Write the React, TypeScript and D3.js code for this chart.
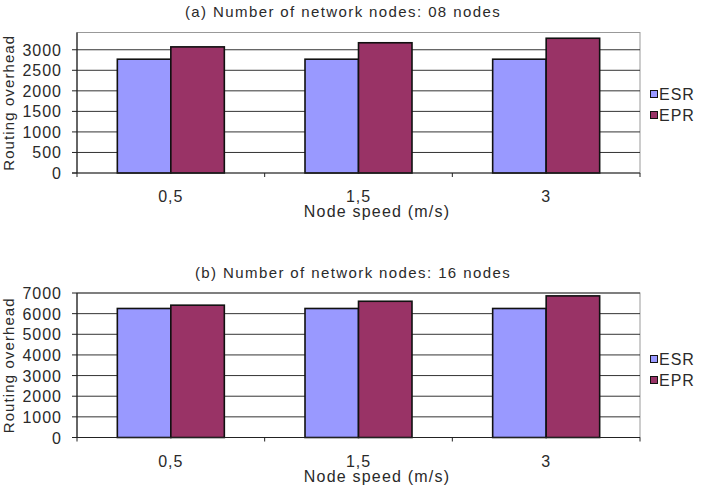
import * as d3 from 'd3'

const speeds = ['0,5', '1,5', '3']
const seriesNames = ['ESR', 'EPR']
const seriesColors = ['#9999FF', '#993366']

const esr08 = [2770, 2770, 2770]
const epr08 = [3070, 3170, 3280]
const ticks08 = [0, 500, 1000, 1500, 2000, 2500, 3000]

const esr16 = [6250, 6250, 6250]
const epr16 = [6410, 6600, 6860]
const ticks16 = [0, 1000, 2000, 3000, 4000, 5000, 6000, 7000]

const W = 707
const H = 492
const FONT = '"Liberation Sans", Arial, sans-serif'
const INK = '#2a2a2a'

type PanelProps = {
  title: string
  titleX: number
  top: number
  bottom: number
  yMax: number
  ticks: number[]
  values: number[][]
  legendY: number
}

function Panel({ title, titleX, top, bottom, yMax, ticks, values, legendY }: PanelProps) {
  const left = 77
  const right = 640
  const x = d3.scaleBand().domain(speeds).range([left, right]).padding(0)
  const inner = d3.scaleBand().domain(seriesNames).range([0, x.bandwidth()]).paddingOuter(0.754).paddingInner(0)
  const y = d3.scaleLinear().domain([0, yMax]).range([bottom, top])
  const mid = (top + bottom) / 2
  const bounds = [left, ...speeds.map(s => x(s)! + x.bandwidth())]

  return (
    <g>
      <text x={titleX} y={top - 15.5} textAnchor="middle" fontSize={15} letterSpacing={1.4} fill={INK}>
        {title}
      </text>
      {/* plot frame */}
      <rect x={left} y={top} width={right - left} height={bottom - top} fill="#fff" stroke="#999" strokeWidth={1} />
      {ticks.filter(t => t > 0).map(t => (
        <line key={t} x1={left} x2={right} y1={y(t)} y2={y(t)} stroke="#333" strokeWidth={1} />
      ))}
      {speeds.map((s, i) => (
        <g key={s}>
          {seriesNames.map((n, j) => (
            <rect
              key={n}
              x={x(s)! + inner(n)!}
              y={y(values[j][i])}
              width={inner.bandwidth()}
              height={bottom - y(values[j][i])}
              fill={seriesColors[j]}
              stroke="#111"
              strokeWidth={1.6}
            />
          ))}
        </g>
      ))}
      {/* axes */}
      <line x1={left} x2={left} y1={top} y2={bottom} stroke="#222" strokeWidth={1.2} />
      <line x1={left - 5} x2={right} y1={bottom} y2={bottom} stroke="#222" strokeWidth={1.2} />
      {ticks.map(t => (
        <g key={t}>
          <line x1={left - 5} x2={left} y1={y(t)} y2={y(t)} stroke="#222" strokeWidth={1} />
          <text x={62} y={y(t) + 6} textAnchor="end" fontSize={16} letterSpacing={1} fill={INK}>
            {t}
          </text>
        </g>
      ))}
      {bounds.map(b => (
        <line key={b} x1={b} x2={b} y1={bottom} y2={bottom + 4} stroke="#222" strokeWidth={1} />
      ))}
      {speeds.map(s => (
        <text key={s} x={x(s)! + x.bandwidth() / 2} y={bottom + 29} textAnchor="middle" fontSize={16} letterSpacing={1} fill={INK}>
          {s}
        </text>
      ))}
      <text x={377} y={bottom + 44} textAnchor="middle" fontSize={16} letterSpacing={1.2} fill={INK}>
        Node speed (m/s)
      </text>
      <text transform={`translate(13.5,${mid}) rotate(-90)`} textAnchor="middle" fontSize={15} letterSpacing={1.1} fill={INK}>
        Routing overhead
      </text>
      {/* legend */}
      {seriesNames.map((n, j) => (
        <g key={n} transform={`translate(650,${legendY + j * 21})`}>
          <rect x={0.5} y={-3.5} width={7} height={7} fill={seriesColors[j]} stroke="#111" strokeWidth={1} />
          <text x={9} y={6} fontSize={16} letterSpacing={1} fill={INK}>
            {n}
          </text>
        </g>
      ))}
    </g>
  )
}

export default function App() {
  return (
    <svg
      width={W}
      height={H}
      viewBox={`0 0 ${W} ${H}`}
      style={{ position: 'absolute', left: 0, top: 0, background: '#fff', fontFamily: FONT }}
    >
      <rect width={W} height={H} fill="#fff" />
      <Panel
        title="(a) Number of network nodes: 08 nodes"
        titleX={343}
        top={32.5}
        bottom={173}
        yMax={3420}
        ticks={ticks08}
        values={[esr08, epr08]}
        legendY={94}
      />
      <Panel
        title="(b) Number of network nodes: 16 nodes"
        titleX={353}
        top={293}
        bottom={437.5}
        yMax={7000}
        ticks={ticks16}
        values={[esr16, epr16]}
        legendY={359}
      />
    </svg>
  )
}
